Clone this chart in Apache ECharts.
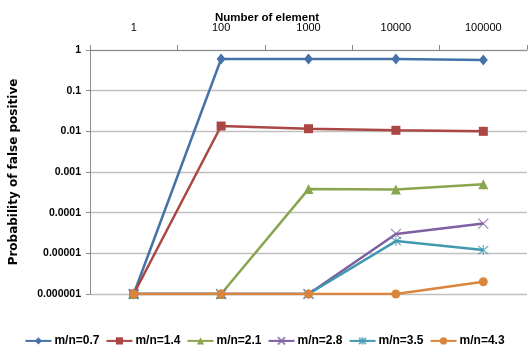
<!DOCTYPE html>
<html>
<head>
<meta charset="utf-8">
<script src="https://cdn.jsdelivr.net/npm/echarts@6/dist/echarts.min.js"></script>
<style>
  html, body { margin: 0; padding: 0; background: #fff; }
  #chart { width: 529px; height: 356px; }
</style>
</head>
<body>
<div id="chart"></div>
<script>
// Number of elements (top category axis)
const elements = ['1', '100', '1000', '10000', '100000'];

// Probability of false positive for each m/n ratio
const mn07 = [0.000001, 0.6, 0.6, 0.6, 0.57];
const mn14 = [0.000001, 0.0135, 0.0116, 0.0106, 0.0100];
const mn21 = [0.000001, 0.000001, 0.00038, 0.00037, 0.0005];
const mn28 = [0.000001, 0.000001, 0.000001, 0.00003, 0.000054];
const mn35 = [0.000001, 0.000001, 0.000001, 0.00002, 0.000012];
const mn43 = [0.000001, 0.000001, 0.000001, 0.000001, 0.000002];

const seriesNames = ['m/n=0.7', 'm/n=1.4', 'm/n=2.1', 'm/n=2.8', 'm/n=3.5', 'm/n=4.3'];
const seriesData = [mn07, mn14, mn21, mn28, mn35, mn43];
const colors = ['#4572A7', '#AA4643', '#89A54E', '#7D60A0', '#4198AF', '#DB843D'];

const crossPath = 'path://M0,0L10,10M10,0L0,10';
const starPath = 'path://M0,0L10,10M10,0L0,10M5,-1L5,11';

const markers = [
  { symbol: 'diamond', symbolSize: [9, 11] },
  { symbol: 'rect', symbolSize: 9 },
  { symbol: 'triangle', symbolSize: 10 },
  { symbol: crossPath, symbolSize: 10, hollow: true },
  { symbol: starPath, symbolSize: 10, hollow: true },
  { symbol: 'circle', symbolSize: 9 }
];

const font = '"Liberation Sans", Arial, sans-serif';

const series = seriesNames.map((name, i) => {
  const m = markers[i];
  return {
    name: name,
    type: 'line',
    data: seriesData[i],
    symbol: m.symbol,
    symbolSize: m.symbolSize,
    showAllSymbol: true,
    lineStyle: { color: colors[i], width: 2.5 },
    itemStyle: m.hollow
      ? { color: 'none', borderColor: colors[i], borderWidth: 1.2, opacity: 0.75 }
      : { color: colors[i], borderWidth: 0 },
    emphasis: { disabled: true }
  };
});

const chart = echarts.init(document.getElementById('chart'), null, { renderer: 'canvas' });

chart.setOption({
  animation: false,
  backgroundColor: '#ffffff',
  color: colors,
  title: {
    text: 'Number of element',
    left: 262,
    top: 7,
    textAlign: 'center',
    textStyle: { fontFamily: font, fontSize: 11.5, fontWeight: 'bold', color: '#000' }
  },
  grid: { left: 90, top: 50, right: 2, bottom: 62 },
  xAxis: {
    type: 'category',
    position: 'top',
    data: elements,
    boundaryGap: true,
    axisLine: { lineStyle: { color: '#8c8c8c', width: 1 } },
    axisTick: { show: true, length: 5, lineStyle: { color: '#8c8c8c' } },
    axisLabel: { margin: 17, fontFamily: font, fontSize: 11, color: '#000' },
    splitLine: { show: false }
  },
  yAxis: {
    type: 'log',
    logBase: 10,
    min: 0.000001,
    max: 1,
    name: 'Probability of false positive',
    nameLocation: 'middle',
    nameGap: 70,
    nameRotate: 90,
    nameTextStyle: { fontFamily: '"DejaVu Sans", sans-serif', fontSize: 12, fontWeight: 'bold', color: '#000' },
    axisLine: { show: true, lineStyle: { color: '#8c8c8c', width: 1 } },
    axisTick: { show: true, length: 4, lineStyle: { color: '#8c8c8c' } },
    axisLabel: {
      margin: 9,
      fontFamily: font,
      fontSize: 10.5,
      fontWeight: 'bold',
      color: '#000',
      formatter: function (v) {
        const p = Math.round(Math.log10(v));
        return p >= 0 ? String(Math.round(v)) : v.toFixed(-p);
      }
    },
    splitLine: { show: true, lineStyle: { color: '#c0c0c0', width: 1.3 } }
  },
  legend: {
    bottom: 4,
    left: 'center',
    itemWidth: 26,
    itemHeight: 9,
    itemGap: 6,
    textStyle: { fontFamily: font, fontSize: 12, fontWeight: 'bold', color: '#000', padding: [0, 0, 0, -2] },
    data: seriesNames
  },
  series: series
});
</script>
</body>
</html>
